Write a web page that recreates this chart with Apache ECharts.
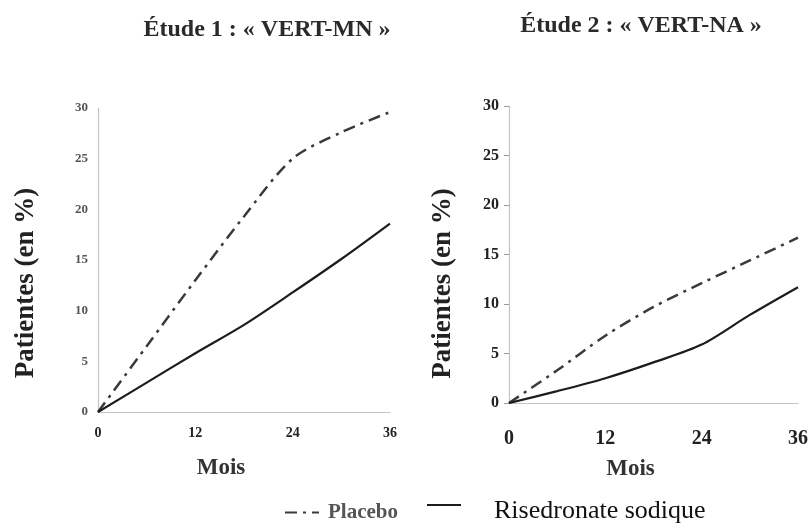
<!DOCTYPE html>
<html>
<head>
<meta charset="utf-8">
<script src="https://cdn.jsdelivr.net/npm/echarts@6/dist/echarts.min.js"></script>
<style>
    html, body { margin: 0; padding: 0; background: #fff; }
    #chart { width: 812px; height: 529px; }
</style>
</head>
<body>
<div id="chart"></div>
<script>
    const months = [0, 6, 12, 18, 24, 30, 36];
    const xTicks = [0, 12, 24, 36];
    const mnPlacebo = [0, 6.5, 13, 19.3, 25, 27.6, 29.6];
    const mnRisedronate = [0, 2.9, 5.8, 8.6, 11.8, 15.1, 18.6];
    const naPlacebo = [0, 3.3, 6.8, 9.7, 12.1, 14.4, 16.7];
    const naRisedronate = [0, 1.2, 2.5, 4.1, 5.9, 8.9, 11.7];
    const titles = ['Étude 1 : « VERT-MN »', 'Étude 2 : « VERT-NA »'];

    const serif = '"Liberation Serif", "DejaVu Serif", serif';
    const placeboStyle = {color: '#3a3a3a', width: 2.5, type: [12, 6, 3, 6]};
    const risedronateStyle = {color: '#1c1c1c', width: 2.2, type: 'solid'};

    const pairs = function (ys) {
        return months.map(function (m, i) { return [m, ys[i]]; });
    };

    const makeX = function (gridIndex, labelSize, labelMargin, nameGap) {
        return {
            type: 'value', gridIndex: gridIndex, min: 0, max: 36, interval: 12,
            axisLine: {lineStyle: {color: '#c4c4c4', width: 1.2}},
            axisTick: {show: false},
            splitLine: {show: false},
            axisLabel: {
                fontFamily: serif, fontWeight: 'bold', fontSize: labelSize,
                color: '#222', margin: labelMargin,
                formatter: function (v) { return xTicks.indexOf(v) >= 0 ? String(v) : ''; }
            },
            name: 'Mois', nameLocation: 'middle', nameGap: nameGap,
            nameTextStyle: {
                fontFamily: serif, fontWeight: 'bold', fontSize: 23, color: '#333',
                padding: [0, 46, 0, 0]
            }
        };
    };

    const makeY = function (gridIndex, labelSize, labelColor, tickLen, nameGap, shift) {
        return {
            type: 'value', gridIndex: gridIndex, min: 0, max: 30, interval: 5,
            axisLine: {show: true, lineStyle: {color: '#c4c4c4', width: 1.2}},
            axisTick: {show: tickLen > 0, length: tickLen, lineStyle: {color: '#999'}},
            splitLine: {show: false},
            axisLabel: {
                fontFamily: serif, fontWeight: 'bold', fontSize: labelSize,
                color: labelColor, margin: 10
            },
            name: 'Patientes (en %)', nameLocation: 'middle', nameGap: nameGap,
            nameTextStyle: {
                fontFamily: serif, fontWeight: 'bold', fontSize: 27, color: '#222',
                padding: [0, shift, 0, 0]
            }
        };
    };

    const makeLine = function (name, data, idx, style) {
        return {
            name: name, type: 'line', xAxisIndex: idx, yAxisIndex: idx,
            data: pairs(data), symbol: 'none', smooth: 0.3,
            lineStyle: style, itemStyle: {color: style.color}
        };
    };

    const chart = echarts.init(document.getElementById('chart'), null, {renderer: 'canvas'});
    chart.setOption({
        backgroundColor: '#ffffff',
        animation: false,
        title: [
            {text: titles[0], left: 262, top: 13, textAlign: 'center',
                textStyle: {fontFamily: serif, fontWeight: 'bold', fontSize: 24, color: '#2a2a2a'}},
            {text: titles[1], left: 636, top: 9, textAlign: 'center',
                textStyle: {fontFamily: serif, fontWeight: 'bold', fontSize: 24, color: '#2a2a2a'}}
        ],
        legend: [
            {
                data: ['Placebo'], left: 279, top: 497, itemWidth: 34, itemHeight: 14,
                itemStyle: {opacity: 0},
                textStyle: {fontFamily: serif, fontWeight: 'bold', fontSize: 21, color: '#555', padding: [0, 0, 0, 4]}
            },
            {
                data: ['Risedronate sodique'], left: 421, top: 493, itemWidth: 34, itemHeight: 14,
                itemStyle: {opacity: 0},
                formatter: '{r|{name}}',
                textStyle: {
                    rich: {
                        r: {fontFamily: serif, fontSize: 26, color: '#111', padding: [12, 0, 0, 28]}
                    }
                }
            }
        ],
        grid: [
            {left: 98, top: 108, width: 292, height: 304},
            {left: 509, top: 106, width: 289, height: 297}
        ],
        xAxis: [makeX(0, 14, 14, 45), makeX(1, 20, 26, 55)],
        yAxis: [makeY(0, 13, '#555', 0, 58, 46), makeY(1, 16, '#222', 5, 52, 58)],
        series: [
            makeLine('Placebo', mnPlacebo, 0, placeboStyle),
            makeLine('Risedronate sodique', mnRisedronate, 0, risedronateStyle),
            makeLine('Placebo', naPlacebo, 1, placeboStyle),
            makeLine('Risedronate sodique', naRisedronate, 1, risedronateStyle)
        ]
    });
</script>
</body>
</html>
